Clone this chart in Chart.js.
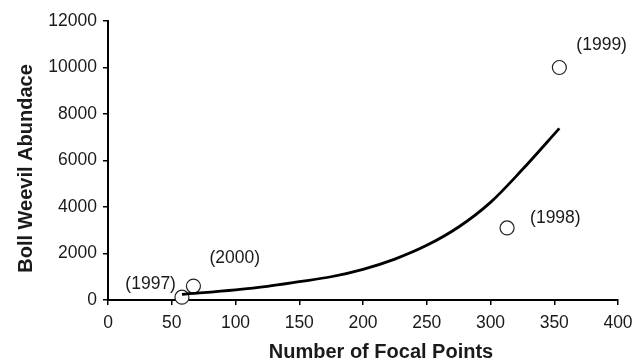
<!DOCTYPE html>
<html>
<head>
<meta charset="utf-8">
<script src="https://cdn.jsdelivr.net/npm/chart.js@4/dist/chart.umd.min.js"></script>
<style>
  html, body { margin: 0; padding: 0; background: #fff; }
  #wrap { width: 644px; height: 363px; }
</style>
</head>
<body>
<div id="wrap"><canvas id="c" width="644" height="363"></canvas></div>
<script>
// Observed seasons: focal points vs. boll weevil abundance
const years = ['(1997)', '(1998)', '(1999)', '(2000)'];
const focalPoints = [58, 313, 354, 67];
const abundance = [120, 3100, 10000, 600];

// Exponential trend curve, sampled along its length
const trendX = [58, 100, 125, 150, 175, 200, 225, 250, 275, 300, 325, 354];
const trendY = [245, 440, 590, 790, 1000, 1320, 1760, 2350, 3140, 4200, 5610, 7380];

// Axis ticks
const xTickValues = [0, 50, 100, 150, 200, 250, 300, 350, 400];
const yTickValues = [0, 2000, 4000, 6000, 8000, 10000, 12000];

const xTitle = 'Number of Focal Points';
const yTitle = 'Boll Weevil Abundace';

const FONT = '"Liberation Sans", Arial, Helvetica, sans-serif';
const TEXT = '#1a1a1a';

// Year labels beside each point (offsets in px from the point centre)
const labelPlacement = {
  '(1997)': { dx: -6, dy: -13, align: 'right' },
  '(1998)': { dx: 23, dy: -10, align: 'left' },
  '(1999)': { dx: 17, dy: -22, align: 'left' },
  '(2000)': { dx: 16, dy: -28, align: 'left' }
};

const annotations = {
  id: 'annotations',
  afterDatasetsDraw(chart) {
    const { ctx, scales: { x, y }, chartArea } = chart;
    ctx.save();
    ctx.fillStyle = TEXT;
    ctx.textBaseline = 'middle';
    ctx.font = '17.5px ' + FONT;
    years.forEach((yr, i) => {
      const p = labelPlacement[yr];
      ctx.textAlign = p.align;
      ctx.fillText(yr, x.getPixelForValue(focalPoints[i]) + p.dx, y.getPixelForValue(abundance[i]) + p.dy);
    });
    // axis titles
    ctx.font = 'bold 20px ' + FONT;
    ctx.textAlign = 'center';
    ctx.fillText(xTitle, (chartArea.left + chartArea.right) / 2 + 18, chartArea.bottom + 52);
    ctx.translate(26, (chartArea.top + chartArea.bottom) / 2 + 8);
    ctx.rotate(-Math.PI / 2);
    ctx.fillText(yTitle, 0, 0);
    ctx.restore();
  }
};

const axisCommon = {
  border: { display: true, color: '#000', width: 2 },
  grid: { display: true, drawOnChartArea: false, drawTicks: true, tickLength: 5, color: '#000', lineWidth: 1.5 },
  ticks: { color: TEXT, font: { family: FONT, size: 17.5 }, maxRotation: 0, autoSkip: false, callback: v => String(v) }
};

new Chart(document.getElementById('c'), {
  data: {
    datasets: [
      {
        type: 'line',
        data: trendX.map((v, i) => ({ x: v, y: trendY[i] })),
        borderColor: '#000',
        borderWidth: 2.8,
        pointRadius: 0,
        fill: false,
        cubicInterpolationMode: 'monotone',
        clip: false,
        order: 0
      },
      {
        type: 'scatter',
        data: focalPoints.map((v, i) => ({ x: v, y: abundance[i] })),
        pointRadius: 7,
        pointBackgroundColor: '#fff',
        pointBorderColor: '#222',
        pointBorderWidth: 1.2,
        clip: false,
        order: 1
      }
    ]
  },
  options: {
    responsive: false,
    animation: false,
    events: [],
    layout: { padding: { top: 21, right: 26, left: 0, bottom: 0 } },
    plugins: { legend: { display: false }, tooltip: { enabled: false } },
    scales: {
      x: {
        type: 'linear',
        min: 0, max: 400,
        ...axisCommon,
        ticks: { ...axisCommon.ticks, padding: 8 },
        afterBuildTicks: s => { s.ticks = xTickValues.map(v => ({ value: v })); },
        afterFit: s => { s.height = 63; }
      },
      y: {
        type: 'linear',
        min: 0, max: 12000,
        ...axisCommon,
        ticks: { ...axisCommon.ticks, padding: 6 },
        afterBuildTicks: s => { s.ticks = yTickValues.map(v => ({ value: v })); },
        afterFit: s => { s.width = 108; }
      }
    }
  },
  plugins: [annotations]
});
</script>
</body>
</html>
